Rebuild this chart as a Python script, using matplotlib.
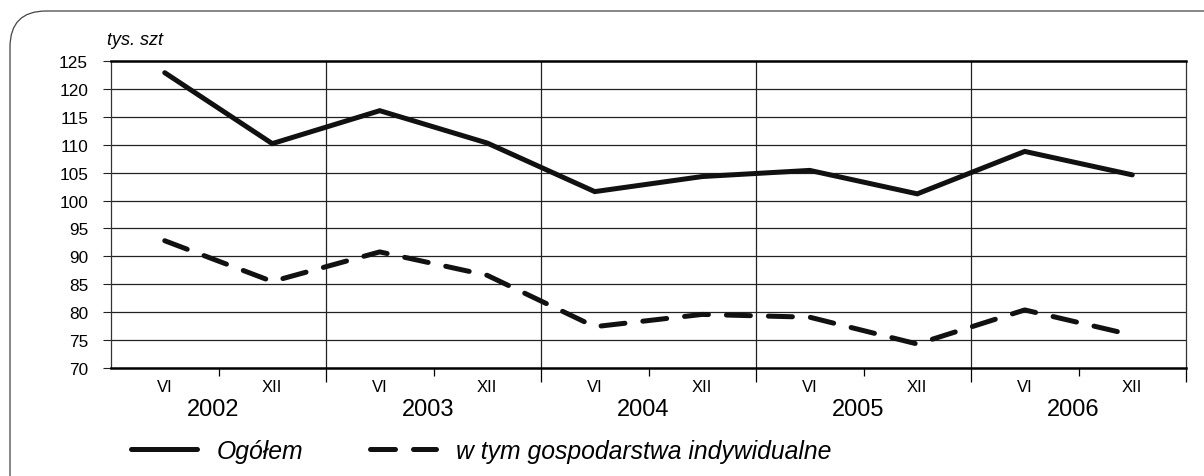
import matplotlib.pyplot as plt
from matplotlib.patches import FancyBboxPatch
from matplotlib.lines import Line2D

plt.rcParams['font.family'] = ['Liberation Sans', 'DejaVu Sans']

# half-year readings, 2002 VI .. 2006 XII
months = ['VI', 'XII'] * 5
years = ['2002', '2003', '2004', '2005', '2006']
ogolem = [122.9, 110.2, 116.1, 110.3, 101.6, 104.3, 105.4, 101.2, 108.8, 104.6]
indywidualne = [92.8, 85.5, 90.8, 86.6, 77.4, 79.6, 79.1, 74.3, 80.4, 75.9]

fig = plt.figure(figsize=(12.04, 4.77), dpi=100)

# rounded frame; only the top-left corner is inside the picture
top = 1 - 12 / 477
frame = FancyBboxPatch((10 / 1204, -0.5), 1.2, top + 0.5,
                       boxstyle='round,pad=0,rounding_size=0.03',
                       transform=fig.transFigure, fill=False,
                       edgecolor='#444444', linewidth=0.9,
                       mutation_aspect=1204 / 477, clip_on=False)
fig.patches.append(frame)

ax = fig.add_axes([111 / 1204, 1 - 369 / 477, (1186 - 111) / 1204, (369 - 62) / 477])

x = list(range(len(months)))
ax.plot(x, ogolem, color='#111111', linewidth=3.6, solid_capstyle='round',
        solid_joinstyle='miter', zorder=3)
ax.plot(x, indywidualne, color='#111111', linewidth=3.6, dashes=(4.8, 3.6),
        dash_capstyle='round', zorder=3)

ax.set_xlim(-0.5, 9.5)
ax.set_ylim(70, 125)
ax.set_yticks(range(70, 126, 5))
ax.tick_params(axis='y', length=6, width=0.8, labelsize=12.4, pad=10.5, color='#222222')

# horizontal grid
for v in range(75, 125, 5):
    ax.axhline(v, color='#222222', linewidth=0.9, zorder=1)
# year dividers
for b in [1.5, 3.5, 5.5, 7.5]:
    ax.axvline(b, color='#222222', linewidth=0.9, zorder=1)

for s in ['left', 'right']:
    ax.spines[s].set_linewidth(0.9)
    ax.spines[s].set_color('#333333')
ax.spines['top'].set_linewidth(1.8)
ax.spines['bottom'].set_linewidth(1.8)

# x ticks on category borders
ax.set_xticks([1.5, 3.5, 5.5, 7.5, 9.5])
ax.set_xticks([0.5, 2.5, 4.5, 6.5, 8.5], minor=True)
ax.tick_params(axis='x', which='major', length=10, width=0.9, labelbottom=False)
ax.tick_params(axis='x', which='minor', length=6, width=0.9, labelbottom=False)

trans = ax.get_xaxis_transform()
for i, m in enumerate(months):
    ax.text(i, -0.06, m, transform=trans, ha='center', va='center', fontsize=12)
for j, yr in enumerate(years):
    ax.text(2 * j + 0.45, -0.134, yr, transform=trans, ha='center', va='center',
            fontsize=17)

ax.text(-0.004, 1.07, 'tys. szt', transform=ax.transAxes, ha='left', va='center',
        fontsize=13, style='italic')

handles = [Line2D([], [], color='#111111', linewidth=3.6, solid_capstyle='round'),
           Line2D([], [], color='#111111', linewidth=3.6, dashes=(5, 3.6),
                  dash_capstyle='round')]
fig.legend(handles, ['Ogółem', 'w tym gospodarstwa indywidualne'],
           loc='center left', bbox_to_anchor=(131 / 1204, 1 - 452 / 477),
           ncol=2, frameon=False, handlelength=2.67, handletextpad=0.8,
           columnspacing=2.7, borderpad=0, borderaxespad=0,
           prop={'size': 17.8, 'style': 'italic'})

fig.savefig('out.png', dpi=100)
